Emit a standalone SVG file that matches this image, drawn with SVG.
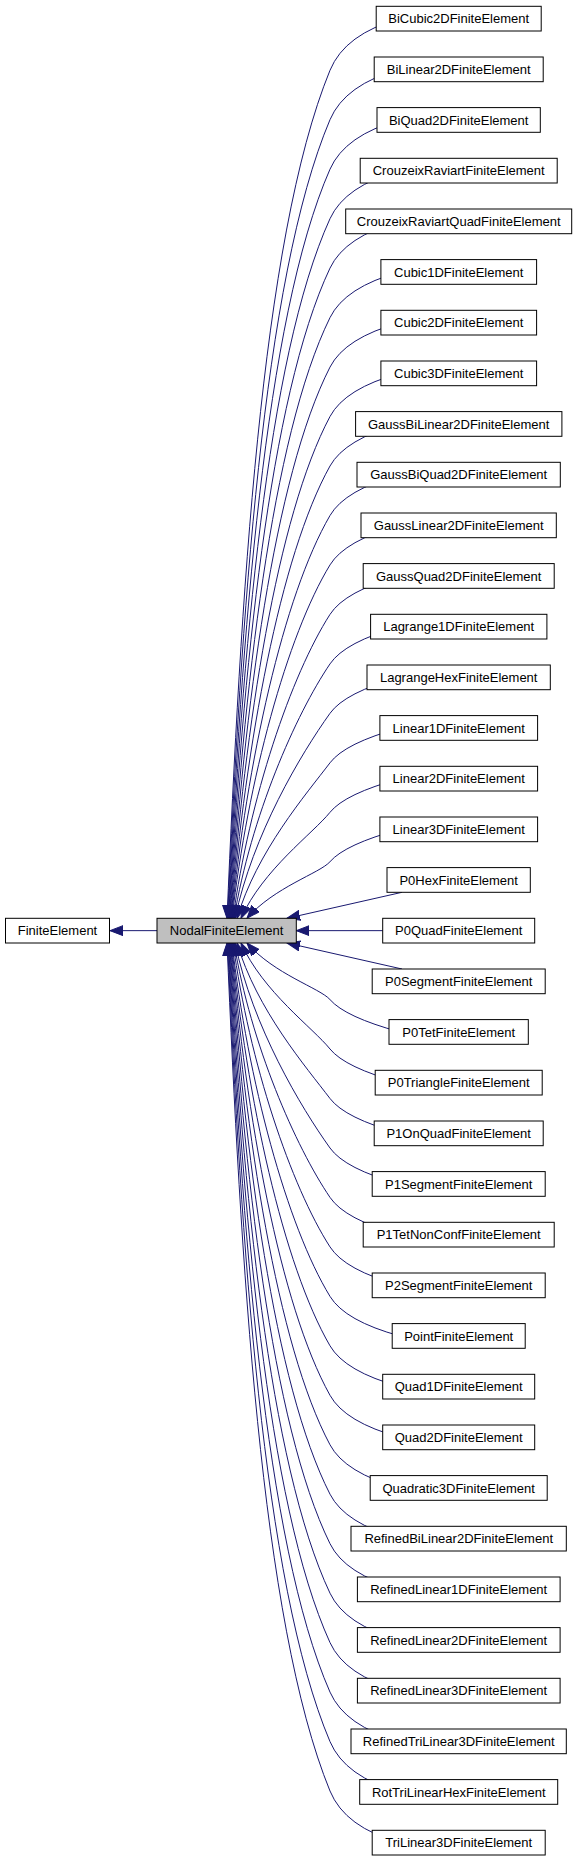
<svg xmlns="http://www.w3.org/2000/svg" width="579" height="1861" viewBox="0 0 579 1861">
<style>
.n rect{fill:#fff;stroke:#000;stroke-width:1}
.n text{font-family:"Liberation Sans",Arial,Helvetica,sans-serif;font-size:13px;fill:#000;text-anchor:middle}
#nodal rect{fill:#bfbfbf}
#edges path{fill:none;stroke:#191970;stroke-width:1;marker-end:url(#arr)}
</style>
<defs>
<marker id="arr" markerUnits="userSpaceOnUse" markerWidth="14" markerHeight="11" viewBox="0 0 14 11" refX="13" refY="5.5" orient="auto">
<path d="M0,0.5 L13,5.5 L0,10.5 z" fill="#191970" stroke="#191970" stroke-width="1"/>
</marker>
</defs>
<rect width="579" height="1861" fill="#fff"/>
<g id="edges">
<path d="M157,930.65 L110,930.65"/>
<path d="M383.3,930.65 L296.3,930.65"/>
<path d="M402,892.3 L287,918.3"/>
<path d="M402,969 L287,943"/>
<path d="M400,829.3 Q345,844.3 330,861.7 C320.2,873.0 274,887.2 247,918.3"/>
<path d="M400,778.7 Q345,793.7 330,812.3 C312.9,833.5 263,869.4 241,918.3"/>
<path d="M400,728.0 Q345,743.0 330,762.8 C306.4,793.9 256.5,851.7 237,918.3"/>
<path d="M400,677.3 Q345,692.3 330,713.3 C300.7,754.3 253,834.0 235,918.3"/>
<path d="M400,626.7 Q345,641.7 330,663.9 C295.6,714.7 251,816.2 234,918.3"/>
<path d="M400,576.0 Q345,591.0 330,614.4 C291.0,675.2 249.3,798.5 233,918.3"/>
<path d="M400,525.3 Q345,540.3 330,564.9 C286.9,635.6 247.8,780.8 232,918.3"/>
<path d="M400,474.7 Q345,489.7 330,515.5 C283.2,596.0 246.8,763.0 231.5,918.3"/>
<path d="M400,424.0 Q345,439.0 330,466.0 C279.7,556.4 246,745.3 231,918.3"/>
<path d="M400,373.3 Q345,388.3 330,416.5 C276.6,516.9 245.2,727.6 230.5,918.3"/>
<path d="M400,322.7 Q345,337.7 330,367.1 C273.8,477.3 244.5,709.8 230,918.3"/>
<path d="M400,272.0 Q345,287.0 330,317.6 C271.1,437.7 243.8,692.1 229.5,918.3"/>
<path d="M400,221.3 Q345,236.3 330,268.1 C268.7,398.2 243.1,674.4 229,918.3"/>
<path d="M400,170.7 Q345,185.7 330,218.7 C266.4,358.6 242.5,656.6 228.5,918.3"/>
<path d="M400,120.0 Q345,135.0 330,169.2 C264.3,319.0 241.9,638.9 228,918.3"/>
<path d="M400,69.3 Q345,84.3 330,119.7 C262.3,279.4 241.3,621.2 227.5,918.3"/>
<path d="M400,18.7 Q345,33.7 330,70.3 C260.5,239.9 240.7,603.4 227,918.3"/>
<path d="M400,1032.0 Q345,1017.0 330,999.6 C320.2,988.3 274,974.1 247,943"/>
<path d="M400,1082.6 Q345,1067.6 330,1049.0 C312.9,1027.8 263,991.9 241,943"/>
<path d="M400,1133.3 Q345,1118.3 330,1098.5 C306.4,1067.4 256.5,1009.6 237,943"/>
<path d="M400,1184.0 Q345,1169.0 330,1148.0 C300.7,1107.0 253,1027.3 235,943"/>
<path d="M400,1234.6 Q345,1219.6 330,1197.4 C295.6,1146.6 251,1045.1 234,943"/>
<path d="M400,1285.3 Q345,1270.3 330,1246.9 C291.0,1186.1 249.3,1062.8 233,943"/>
<path d="M400,1336.0 Q345,1321.0 330,1296.4 C286.9,1225.7 247.8,1080.5 232,943"/>
<path d="M400,1386.6 Q345,1371.6 330,1345.8 C283.2,1265.3 246.8,1098.3 231.5,943"/>
<path d="M400,1437.3 Q345,1422.3 330,1395.3 C279.7,1304.9 246,1116.0 231,943"/>
<path d="M400,1488.0 Q345,1473.0 330,1444.8 C276.6,1344.4 245.2,1133.7 230.5,943"/>
<path d="M400,1538.6 Q345,1523.6 330,1494.2 C273.8,1384.0 244.5,1151.5 230,943"/>
<path d="M400,1589.3 Q345,1574.3 330,1543.7 C271.1,1423.6 243.8,1169.2 229.5,943"/>
<path d="M400,1640.0 Q345,1625.0 330,1593.2 C268.7,1463.1 243.1,1186.9 229,943"/>
<path d="M400,1690.6 Q345,1675.6 330,1642.6 C266.4,1502.7 242.5,1204.7 228.5,943"/>
<path d="M400,1741.3 Q345,1726.3 330,1692.1 C264.3,1542.3 241.9,1222.4 228,943"/>
<path d="M400,1792.0 Q345,1777.0 330,1741.6 C262.3,1581.9 241.3,1240.1 227.5,943"/>
<path d="M400,1842.6 Q345,1827.6 330,1791.0 C260.5,1621.4 240.7,1257.9 227,943"/>
</g>
<g id="finite" class="n"><rect x="5.5" y="918.3" width="104" height="24.7"/><text x="57.5" y="935.3">FiniteElement</text></g>
<g id="nodal" class="n"><rect x="157" y="918.3" width="139.3" height="24.7"/><text x="226.6" y="935.3">NodalFiniteElement</text></g>
<g id="n0" class="n"><rect x="376.2" y="6.3" width="165" height="24.7"/><text x="458.7" y="23.3">BiCubic2DFiniteElement</text></g>
<g id="n1" class="n"><rect x="374.2" y="57" width="169" height="24.7"/><text x="458.7" y="74">BiLinear2DFiniteElement</text></g>
<g id="n2" class="n"><rect x="377" y="107.6" width="163.3" height="24.7"/><text x="458.7" y="124.6">BiQuad2DFiniteElement</text></g>
<g id="n3" class="n"><rect x="360.2" y="158.3" width="197" height="24.7"/><text x="458.7" y="175.3">CrouzeixRaviartFiniteElement</text></g>
<g id="n4" class="n"><rect x="345.7" y="209" width="226" height="24.7"/><text x="458.7" y="226">CrouzeixRaviartQuadFiniteElement</text></g>
<g id="n5" class="n"><rect x="380.9" y="259.6" width="155.7" height="24.7"/><text x="458.7" y="276.6">Cubic1DFiniteElement</text></g>
<g id="n6" class="n"><rect x="380.9" y="310.3" width="155.7" height="24.7"/><text x="458.7" y="327.3">Cubic2DFiniteElement</text></g>
<g id="n7" class="n"><rect x="380.9" y="361" width="155.7" height="24.7"/><text x="458.7" y="378">Cubic3DFiniteElement</text></g>
<g id="n8" class="n"><rect x="355.6" y="411.6" width="206.3" height="24.7"/><text x="458.7" y="428.6">GaussBiLinear2DFiniteElement</text></g>
<g id="n9" class="n"><rect x="357" y="462.3" width="203.3" height="24.7"/><text x="458.7" y="479.3">GaussBiQuad2DFiniteElement</text></g>
<g id="n10" class="n"><rect x="361" y="513" width="195.3" height="24.7"/><text x="458.7" y="530">GaussLinear2DFiniteElement</text></g>
<g id="n11" class="n"><rect x="363.2" y="563.6" width="191" height="24.7"/><text x="458.7" y="580.6">GaussQuad2DFiniteElement</text></g>
<g id="n12" class="n"><rect x="370.6" y="614.3" width="176.3" height="24.7"/><text x="458.7" y="631.3">Lagrange1DFiniteElement</text></g>
<g id="n13" class="n"><rect x="367" y="665" width="183.3" height="24.7"/><text x="458.7" y="682">LagrangeHexFiniteElement</text></g>
<g id="n14" class="n"><rect x="379.9" y="715.6" width="157.7" height="24.7"/><text x="458.7" y="732.6">Linear1DFiniteElement</text></g>
<g id="n15" class="n"><rect x="379.9" y="766.3" width="157.7" height="24.7"/><text x="458.7" y="783.3">Linear2DFiniteElement</text></g>
<g id="n16" class="n"><rect x="379.9" y="817" width="157.7" height="24.7"/><text x="458.7" y="834">Linear3DFiniteElement</text></g>
<g id="n17" class="n"><rect x="387" y="867.6" width="143.3" height="24.7"/><text x="458.7" y="884.6">P0HexFiniteElement</text></g>
<g id="n18" class="n"><rect x="382.7" y="918.3" width="152" height="24.7"/><text x="458.7" y="935.3">P0QuadFiniteElement</text></g>
<g id="n19" class="n"><rect x="372.2" y="969" width="173" height="24.7"/><text x="458.7" y="986">P0SegmentFiniteElement</text></g>
<g id="n20" class="n"><rect x="389" y="1019.6" width="139.3" height="24.7"/><text x="458.7" y="1036.6">P0TetFiniteElement</text></g>
<g id="n21" class="n"><rect x="375.2" y="1070.3" width="167" height="24.7"/><text x="458.7" y="1087.3">P0TriangleFiniteElement</text></g>
<g id="n22" class="n"><rect x="374.2" y="1121" width="169" height="24.7"/><text x="458.7" y="1138">P1OnQuadFiniteElement</text></g>
<g id="n23" class="n"><rect x="372.2" y="1171.6" width="173" height="24.7"/><text x="458.7" y="1188.6">P1SegmentFiniteElement</text></g>
<g id="n24" class="n"><rect x="363.2" y="1222.3" width="191" height="24.7"/><text x="458.7" y="1239.3">P1TetNonConfFiniteElement</text></g>
<g id="n25" class="n"><rect x="372.2" y="1273" width="173" height="24.7"/><text x="458.7" y="1290">P2SegmentFiniteElement</text></g>
<g id="n26" class="n"><rect x="392.2" y="1323.6" width="133" height="24.7"/><text x="458.7" y="1340.6">PointFiniteElement</text></g>
<g id="n27" class="n"><rect x="382.7" y="1374.3" width="152" height="24.7"/><text x="458.7" y="1391.3">Quad1DFiniteElement</text></g>
<g id="n28" class="n"><rect x="382.7" y="1425" width="152" height="24.7"/><text x="458.7" y="1442">Quad2DFiniteElement</text></g>
<g id="n29" class="n"><rect x="370.2" y="1475.6" width="177" height="24.7"/><text x="458.7" y="1492.6">Quadratic3DFiniteElement</text></g>
<g id="n30" class="n"><rect x="351" y="1526.3" width="215.3" height="24.7"/><text x="458.7" y="1543.3">RefinedBiLinear2DFiniteElement</text></g>
<g id="n31" class="n"><rect x="357.4" y="1577" width="202.7" height="24.7"/><text x="458.7" y="1594">RefinedLinear1DFiniteElement</text></g>
<g id="n32" class="n"><rect x="357.4" y="1627.6" width="202.7" height="24.7"/><text x="458.7" y="1644.6">RefinedLinear2DFiniteElement</text></g>
<g id="n33" class="n"><rect x="357.4" y="1678.3" width="202.7" height="24.7"/><text x="458.7" y="1695.3">RefinedLinear3DFiniteElement</text></g>
<g id="n34" class="n"><rect x="351" y="1729" width="215.3" height="24.7"/><text x="458.7" y="1746">RefinedTriLinear3DFiniteElement</text></g>
<g id="n35" class="n"><rect x="359.7" y="1779.6" width="198" height="24.7"/><text x="458.7" y="1796.6">RotTriLinearHexFiniteElement</text></g>
<g id="n36" class="n"><rect x="372.2" y="1830.3" width="173" height="24.7"/><text x="458.7" y="1847.3">TriLinear3DFiniteElement</text></g>
</svg>
